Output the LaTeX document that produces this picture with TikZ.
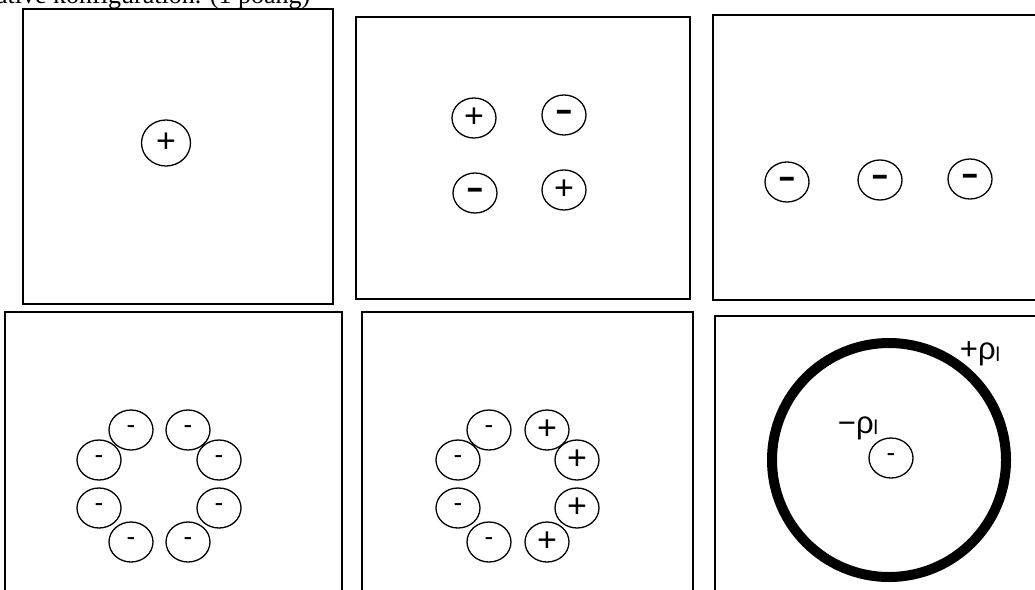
\documentclass[tikz,border=0pt]{standalone}
\usepackage{fontspec}
\setmainfont{Liberation Serif}
\newfontfamily\sansf{Liberation Sans}
\usetikzlibrary{shapes.geometric}
\newcommand{\wideminus}{\scalebox{1.7}[1]{-}}
\begin{document}
\begin{tikzpicture}[x=1pt,y=-1pt,
  panel/.style={draw, line width=1.6pt},
  charge/.style={draw, ellipse, line width=1.3pt, minimum width=44pt, minimum height=40pt, inner sep=0pt, font=\sansf\fontsize{34}{34}\selectfont},
  bigcharge/.style={charge, minimum width=49pt, minimum height=46pt},
  minuscharge/.style={charge, font=\sansf\bfseries\fontsize{32}{32}\selectfont},
  smallsign/.style={charge, font=\sansf\fontsize{26}{26}\selectfont},
  ring/.style={draw, circle, line width=10pt, minimum size=234pt, inner sep=0pt},
  rholabel/.style={font=\sansf\fontsize{31}{31}\selectfont, inner sep=0pt}]
\useasboundingbox (0,0) rectangle (1035,589);
\clip (0,0) rectangle (1035,589);
% clipped heading
\node[anchor=base west, inner sep=0pt, font=\fontsize{26}{30}\selectfont] (head) at (-4,3) {ative konfiguration. (1 poäng)};
% panels
\draw[panel] (23,9) rectangle (333,304);
\draw[panel] (356,17) rectangle (690,299);
\draw[panel] (713,15) rectangle (1045,300);
\draw[panel] (5,312) rectangle (342,600);
\draw[panel] (362,312) rectangle (693,600);
\draw[panel] (715,316) rectangle (1045,600);
% panel 1
\node[bigcharge] (p1) at (166,143) {+};
% panel 2
\node[charge] (q1) at (474,118) {+};
\node[minuscharge] (q2) at (564,115) {\wideminus};
\node[minuscharge] (q3) at (475,193) {\wideminus};
\node[charge] (q4) at (564,190) {+};
% panel 3
\node[minuscharge] (r1) at (787,182) {\wideminus};
\node[minuscharge] (r2) at (880,180) {\wideminus};
\node[minuscharge] (r3) at (970,179) {\wideminus};
% panel 4
\node[smallsign] (s1) at (131,430) {-};
\node[smallsign] (s2) at (188,430) {-};
\node[smallsign] (s3) at (99,460) {-};
\node[smallsign] (s4) at (219,460) {-};
\node[smallsign] (s5) at (99,508) {-};
\node[smallsign] (s6) at (219,508) {-};
\node[smallsign] (s7) at (131,542) {-};
\node[smallsign] (s8) at (188,542) {-};
% panel 5
\node[smallsign] (t1) at (489,430) {-};
\node[charge] (t2) at (547,430) {+};
\node[smallsign] (t3) at (458,460) {-};
\node[charge] (t4) at (577,460) {+};
\node[smallsign] (t5) at (458,508) {-};
\node[charge] (t6) at (577,508) {+};
\node[smallsign] (t7) at (489,542) {-};
\node[charge] (t8) at (547,542) {+};
% panel 6
\node[ring] (shell) at (889,460) {};
\node[smallsign] (u1) at (891,458) {-};
\node[rholabel] (lin) at (858,428) {−ρ\raisebox{-0.1ex}{\fontsize{20}{20}\selectfont l}};
\node[rholabel] (lout) at (980,354) {+ρ\raisebox{-0.1ex}{\fontsize{20}{20}\selectfont l}};
\end{tikzpicture}
\end{document}
